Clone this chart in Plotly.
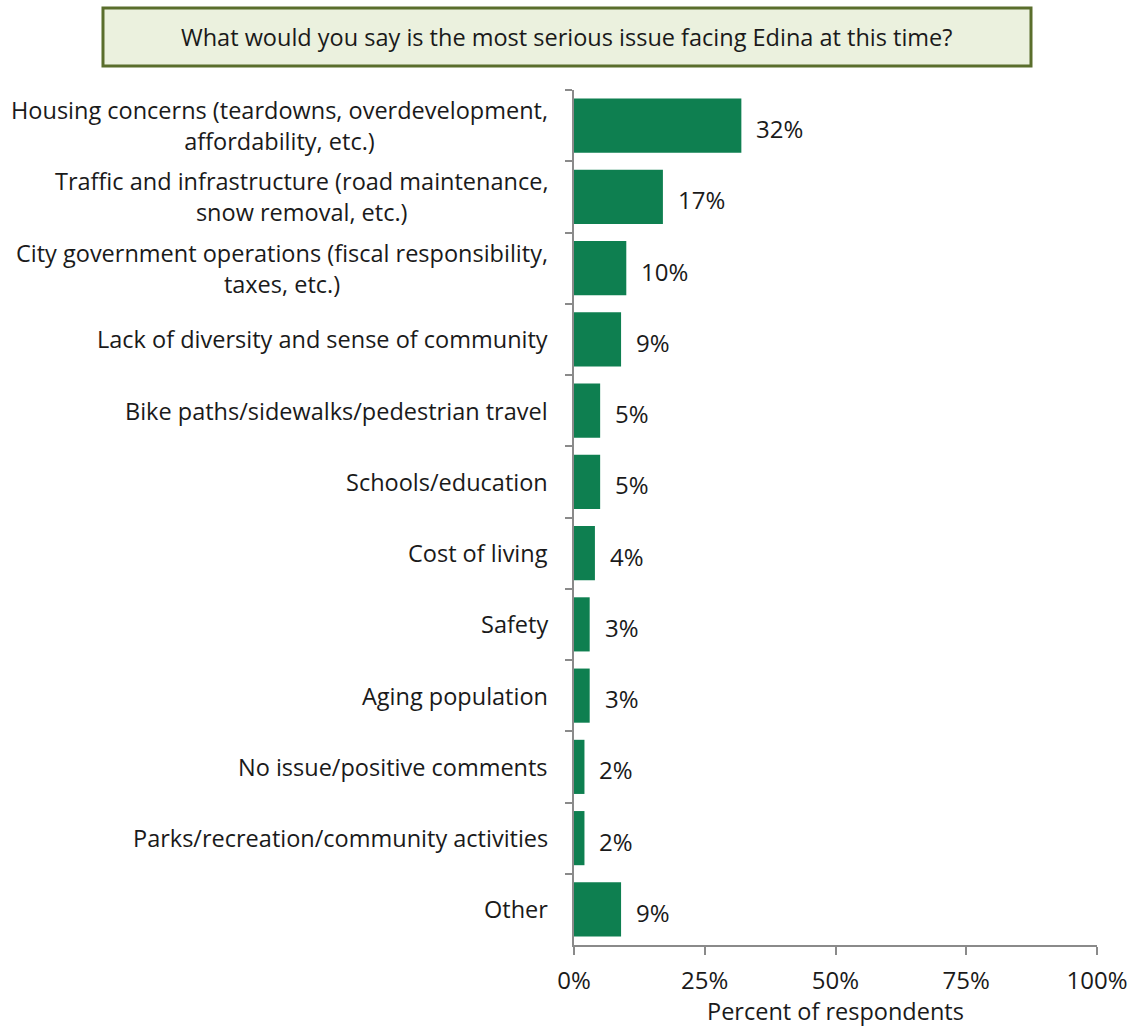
import plotly.graph_objects as go

categories = [
    "Housing concerns (teardowns, overdevelopment,<br>affordability, etc.)",
    "Traffic and infrastructure (road maintenance,<br>snow removal, etc.)",
    "City government operations (fiscal responsibility,<br>taxes, etc.)",
    "Lack of diversity and sense of community",
    "Bike paths/sidewalks/pedestrian travel",
    "Schools/education",
    "Cost of living",
    "Safety",
    "Aging population",
    "No issue/positive comments",
    "Parks/recreation/community activities",
    "Other",
]
percent = [32, 17, 10, 9, 5, 5, 4, 3, 3, 2, 2, 9]
x_ticks = [0, 25, 50, 75, 100]
x_tick_labels = ["0%", "25%", "50%", "75%", "100%"]
title_text = "What would you say is the most serious issue facing Edina at this time?"
x_title = "Percent of respondents"

FONT = "Open Sans"
TXT = "#1a1a1a"
BAR = "#0E7F50"
AXIS = "#8A8A8A"
SIZE = 23.5

fig = go.Figure()
fig.add_trace(go.Bar(
    x=percent,
    y=categories,
    orientation="h",
    marker=dict(color=BAR, line=dict(width=0)),
    width=0.76,
    hoverinfo="skip",
))

# Value labels just past the end of each bar
for cat, v in zip(categories, percent):
    fig.add_annotation(
        x=v, xref="x", y=cat, yref="y",
        text=f"{v}%", showarrow=False,
        xanchor="left", yanchor="middle",
        xshift=13, yshift=-3,
        font=dict(family=FONT, size=24, color=TXT),
    )

# Category labels: block right-aligned, lines centered
for cat in categories:
    fig.add_annotation(
        x=0, xref="paper", y=cat, yref="y",
        text=cat, showarrow=False,
        xanchor="right", yanchor="middle", align="center",
        xshift=-24,
        font=dict(family=FONT, size=SIZE, color=TXT),
    )

# Question banner
fig.add_shape(
    type="rect", xref="paper", yref="paper",
    x0=-0.9006, x1=0.8738, y0=1.0281, y1=1.0959,
    fillcolor="#EBF1DE", line=dict(color="#5A6E2C", width=3),
)
fig.add_annotation(
    x=-0.0134, xref="paper", y=1.062, yref="paper",
    text=title_text, showarrow=False,
    xanchor="center", yanchor="middle",
    font=dict(family=FONT, size=SIZE, color=TXT),
)

# X axis title
fig.add_annotation(
    x=0.5, xref="paper", y=-0.0775, yref="paper",
    text=x_title, showarrow=False,
    xanchor="center", yanchor="middle",
    font=dict(family=FONT, size=SIZE, color=TXT),
)

fig.update_layout(
    width=1135, height=1029,
    margin=dict(l=574, r=38, t=90, b=84),
    paper_bgcolor="white", plot_bgcolor="white",
    showlegend=False,
)
fig.update_xaxes(
    range=[0, 100],
    tickvals=x_ticks, ticktext=x_tick_labels,
    automargin=False,
    showgrid=False, zeroline=False,
    showline=True, linecolor=AXIS, linewidth=2,
    ticks="outside", ticklen=8, tickwidth=2, tickcolor=AXIS,
    ticklabelstandoff=5,
    tickfont=dict(family=FONT, size=24, color=TXT),
)
fig.update_yaxes(
    type="category",
    categoryorder="array", categoryarray=categories,
    autorange="reversed",
    automargin=False,
    showgrid=False, zeroline=False,
    showline=True, linecolor=AXIS, linewidth=2,
    ticks="outside", tickson="boundaries", ticklen=7, tickwidth=2, tickcolor=AXIS,
    showticklabels=False,
)

fig.write_html("out.html")
